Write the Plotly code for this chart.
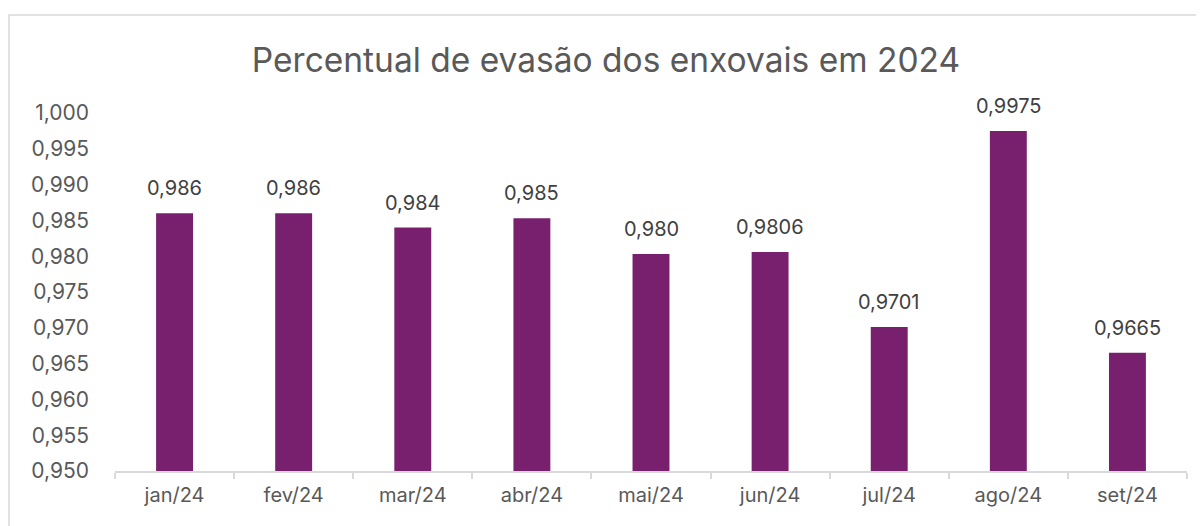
import plotly.graph_objects as go

months = ["jan/24", "fev/24", "mar/24", "abr/24", "mai/24", "jun/24", "jul/24", "ago/24", "set/24"]
values = [0.986, 0.986, 0.984, 0.9853, 0.9803, 0.9806, 0.9701, 0.9975, 0.9665]
labels = ["0,986", "0,986", "0,984", "0,985", "0,980", "0,9806", "0,9701", "0,9975", "0,9665"]

BAR = "#78206E"
TXT = "#595959"
FONT = "Inter, 'Open Sans', sans-serif"

W, H = 1196, 518
L, R, T, B = 107, 17, 105, 55
PW, PH = W - L - R, H - T - B

fig = go.Figure(go.Bar(
    x=months, y=values,
    marker=dict(color=BAR, line=dict(width=0)),
    width=0.31,
))

for m, v, lab in zip(months, values, labels):
    fig.add_annotation(x=m, y=v, text=lab, showarrow=False, yanchor="bottom",
                       yshift=11, font=dict(size=20, color="#404040", family=FONT))

fig.update_layout(
    width=W, height=H,
    margin=dict(l=L, r=R, t=T, b=B),
    paper_bgcolor="white", plot_bgcolor="white",
    separators=",.",
    font=dict(family=FONT, color=TXT),
    title=dict(text="Percentual de evasão dos enxovais em 2024", x=0.5, xanchor="center",
               y=1 - 52 / H, yanchor="middle",
               font=dict(size=33.5, color=TXT, family=FONT)),
    showlegend=False,
    xaxis=dict(showline=True, linecolor="#D9D9D9", linewidth=1.5, ticks="outside",
               tickson="boundaries", ticklen=6, tickcolor="#D9D9D9", tickwidth=1.5,
               tickfont=dict(size=20, color=TXT), showgrid=False, ticklabelstandoff=5),
    yaxis=dict(range=[0.95, 1.0], dtick=0.005, tick0=0.95, tickformat=".3f",
               showgrid=False, zeroline=False, showline=False,
               tickfont=dict(size=21, color=TXT), ticklabelstandoff=25),
    shapes=[dict(type="rect", xref="paper", yref="paper",
                 x0=(1 - L) / PW, x1=1.1, y0=-0.3, y1=(PH + T - 7) / PH,
                 line=dict(color="#D9D9D9", width=1.5), fillcolor="rgba(0,0,0,0)", layer="below")],
)

fig.write_html("out.html")
